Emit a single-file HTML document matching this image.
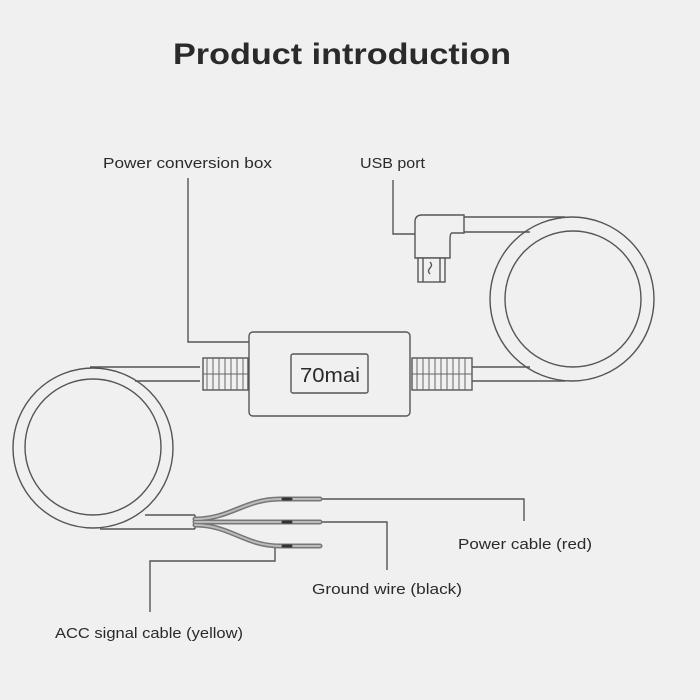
<!DOCTYPE html>
<html><head><style>
html,body{margin:0;padding:0;background:#f0f0f0;}
svg{display:block;}
text{font-family:"Liberation Sans",sans-serif;fill:#2a2a2a;}
</style></head><body>
<svg width="700" height="700" viewBox="0 0 700 700" xmlns="http://www.w3.org/2000/svg">
<rect width="700" height="700" fill="#f0f0f0"/>
<text x="173" y="64" textLength="338" lengthAdjust="spacingAndGlyphs" font-size="30" font-weight="bold" fill="#222">Product introduction</text>
<g font-size="14.5">
<text x="103" y="168" textLength="169" lengthAdjust="spacingAndGlyphs">Power conversion box</text>
<text x="360" y="168" textLength="65" lengthAdjust="spacingAndGlyphs">USB port</text>
<text x="458" y="549" textLength="134" lengthAdjust="spacingAndGlyphs">Power cable (red)</text>
<text x="312" y="594" textLength="150" lengthAdjust="spacingAndGlyphs">Ground wire (black)</text>
<text x="55" y="638" textLength="188" lengthAdjust="spacingAndGlyphs">ACC signal cable (yellow)</text>
</g>
<g fill="none" stroke="#555" stroke-width="1.4">
<polyline points="188,178 188,342 249,342"/>
<polyline points="393,180 393,234 415,234"/>
<polyline points="322,499 524,499 524,521"/>
<polyline points="322,522 387,522 387,570"/>
<polyline points="275,546 275,561 150,561 150,612"/>
<circle cx="572" cy="299" r="82"/>
<circle cx="573" cy="299" r="68"/>
<line x1="464" y1="217" x2="565" y2="217"/>
<line x1="464" y1="232" x2="530" y2="232"/>
<line x1="470" y1="367" x2="530" y2="367"/>
<line x1="470" y1="381" x2="565" y2="381"/>
<path d="M415,258 V222 Q415,215 422,215 H464 V233 H452 Q450,233 450,240 V258 Z" fill="#f0f0f0"/>
<rect x="418" y="258" width="27" height="24" fill="#f0f0f0"/>
<line x1="423" y1="258" x2="423" y2="282"/><line x1="440" y1="258" x2="440" y2="282"/>
<path d="M430,262 q3,3 0,6 q-3,3 0,6"/>
<circle cx="93" cy="448" r="80"/>
<circle cx="93" cy="447" r="68"/>
<line x1="90" y1="367" x2="200" y2="367"/>
<line x1="135" y1="381" x2="200" y2="381"/>
<line x1="100" y1="529" x2="195" y2="529"/>
<line x1="145" y1="515" x2="195" y2="515"/>
<line x1="195" y1="515" x2="195" y2="529"/>
<rect x="249" y="332" width="161" height="84" rx="4" fill="#f0f0f0"/>
<rect x="291" y="354" width="77" height="39" rx="2"/>
<rect x="203" y="358" width="45" height="32" fill="#f0f0f0"/>
<rect x="412" y="358" width="60" height="32" fill="#f0f0f0"/>
</g>
<g stroke="#666" stroke-width="1">
<path d="M207,358v32M213,358v32M219,358v32M225,358v32M231,358v32M237,358v32M243,358v32"/>
<path d="M417,358v32M423,358v32M429,358v32M435,358v32M441,358v32M447,358v32M453,358v32M459,358v32M465,358v32"/>
<line x1="203" y1="374" x2="248" y2="374"/><line x1="412" y1="374" x2="472" y2="374"/>
</g>
<text x="300" y="382" textLength="60" lengthAdjust="spacingAndGlyphs" font-size="20" fill="#333">70mai</text>
<g fill="none" stroke-linecap="round">
<path d="M195,519 C230,519 245,499 280,499 H320" stroke="#777" stroke-width="5"/>
<path d="M195,522 H320" stroke="#777" stroke-width="5"/>
<path d="M195,525 C230,525 245,546 280,546 H320" stroke="#777" stroke-width="5"/>
<path d="M195,519 C230,519 245,499 280,499 H320 M195,522 H320 M195,525 C230,525 245,546 280,546 H320" stroke="#bbb" stroke-width="2"/>
<path d="M283,499h8M283,522h8M283,546h8" stroke="#333" stroke-width="3"/>
</g>
</svg>
</body></html>
